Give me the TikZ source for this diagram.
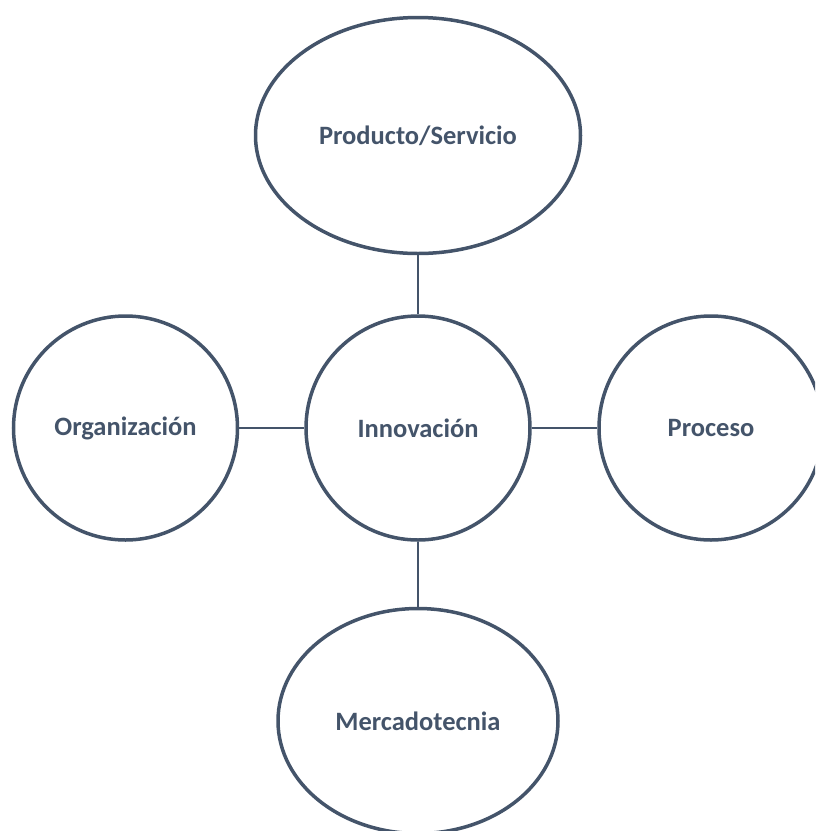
\documentclass[tikz,border=0pt]{standalone}
\usepackage{fontspec}
\setmainfont{Carlito}
\usetikzlibrary{shapes.geometric}
\definecolor{slate}{HTML}{44546A}
\begin{document}
\begin{tikzpicture}[x=1pt, y=1pt,
	bubble/.style={draw=slate, line width=3.5pt, text=slate, font=\bfseries\fontsize{26.5}{30}\selectfont},
	round/.style={bubble, circle, minimum size=224pt},
	oval/.style={bubble, ellipse, minimum width=#1},
	link/.style={draw=slate, line width=2.2pt}]
	\useasboundingbox (0, 0) rectangle (815, -831);
	\clip (0, 0) rectangle (815, -831);
		\node [round] (innov) at (418, -428) {Innovación};
		\node [oval=325pt, minimum height=236pt] (prod) at (418, -135.5) {Producto/Servicio};
		\node [round] (org) at (125.5, -428) {Organización};
		\node [round] (proc) at (711, -428) {Proceso};
		\node [oval=280pt, minimum height=225pt] (merc) at (418, -721) {Mercadotecnia};
		\draw[link] (prod) -- (innov);
		\draw[link] (org) -- (innov);
		\draw[link] (innov) -- (proc);
		\draw[link] (innov) -- (merc);
	\end{tikzpicture}
\end{document}
